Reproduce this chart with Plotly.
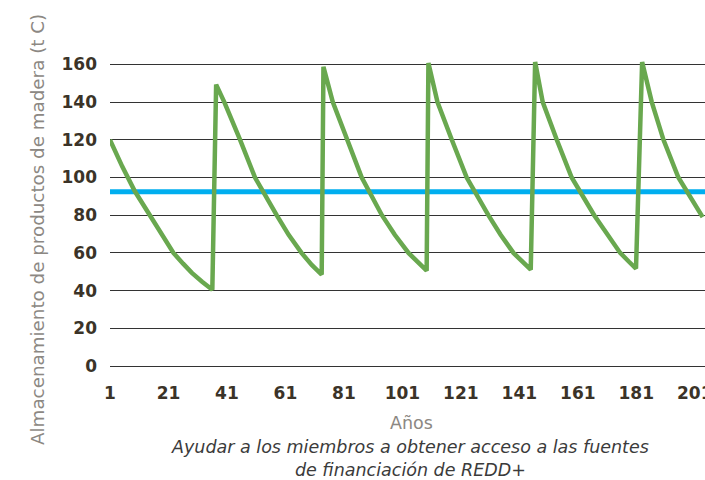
import plotly.graph_objects as go

# ---- data ----
years = [1, 5.2, 9.5, 14.7, 18.7, 22.7, 26, 29, 32.5, 36,
         37.3, 40.1, 45.5, 50.6, 58, 62.1, 66.5, 70, 73.4,
         74, 77.2, 82, 87.1, 94, 98.4, 103.1, 106.5, 109.3,
         109.9, 113, 117.9, 123, 130.4, 134.6, 139, 142.2, 144.9,
         146.4, 149, 153.8, 158.9, 166.6, 171, 175.5, 178.5, 180.9,
         183, 186.3, 190.3, 195.4, 203.7]
storage = [120, 105.8, 92.7, 80, 69.5, 60, 54.3, 49.4, 44.7, 40.5,
           149.3, 140, 120, 100, 80, 69.6, 60, 53.6, 48.5,
           158.7, 140, 120, 100, 80, 69.6, 60, 54.5, 50.6,
           160.8, 140, 120, 100, 80, 69.6, 60, 55, 51.1,
           161.3, 140, 120, 100, 80, 69.6, 60, 55.3, 51.7,
           161.3, 140, 120, 100, 79]
baseline_years = [1, 204.5]
baseline_values = [92.5, 92.5]

x_tick_vals = [1, 21, 41, 61, 81, 101, 121, 141, 161, 181, 201]
x_tick_text = ["1", "21", "41", "61", "81", "101", "121", "141", "161", "181", "201"]
y_tick_vals = [0, 20, 40, 60, 80, 100, 120, 140, 160]

y_title = "Almacenamiento de productos de madera (t C)"
x_title = "Años"
caption = "Ayudar a los miembros a obtener acceso a las fuentes<br>de financiación de REDD+"

GREEN = "#69A84F"
BLUE = "#00AEEF"
TICK_COLOR = "#3B3328"
GRID = "#333333"
FONT = "DejaVu Sans"

fig = go.Figure()
fig.add_trace(go.Scatter(x=baseline_years, y=baseline_values, mode="lines",
                         line=dict(color=BLUE, width=5), hoverinfo="skip",
                         showlegend=False))
fig.add_trace(go.Scatter(x=years, y=storage, mode="lines",
                         line=dict(color=GREEN, width=4.5, shape="linear"),
                         showlegend=False))

fig.update_layout(
    width=705, height=480,
    margin=dict(l=110, r=0, t=55, b=114),
    paper_bgcolor="white", plot_bgcolor="white",
    font=dict(family=FONT, color=TICK_COLOR),
    xaxis=dict(range=[1, 204.5], tickvals=x_tick_vals, ticktext=x_tick_text,
               showgrid=False, zeroline=False, showline=False, ticks="",
               automargin=False, ticklabeloverflow="allow",
               tickfont=dict(size=17, color=TICK_COLOR, family=FONT, weight="bold"),
               ticklabelstandoff=15),
    yaxis=dict(range=[0, 165], tickvals=y_tick_vals,
               showgrid=True, gridcolor=GRID, gridwidth=1,
               zeroline=True, zerolinecolor=GRID, zerolinewidth=1,
               showline=False, ticks="", automargin=False,
               tickfont=dict(size=17, color=TICK_COLOR, family=FONT, weight="bold"),
               ticklabelstandoff=12),
    annotations=[
        dict(text=y_title, textangle=-90, xref="paper", yref="paper",
             x=-0.123, y=0.44, xanchor="center", yanchor="middle",
             showarrow=False, font=dict(size=18.3, color="#8C8883", family=FONT)),
        dict(text=x_title, xref="paper", yref="paper", x=0.507, y=-0.183,
             xanchor="center", yanchor="middle", showarrow=False,
             font=dict(size=17.5, color="#8C8883", family=FONT)),
        dict(text=caption, xref="paper", yref="paper", x=0.505, y=-0.296,
             xanchor="center", yanchor="middle", showarrow=False,
             font=dict(size=17.5, color="#3B3B3B", family=FONT, style="italic")),
    ],
)

fig.write_html("out.html", config={"displayModeBar": False},
               post_script="document.body.style.margin='0';")
